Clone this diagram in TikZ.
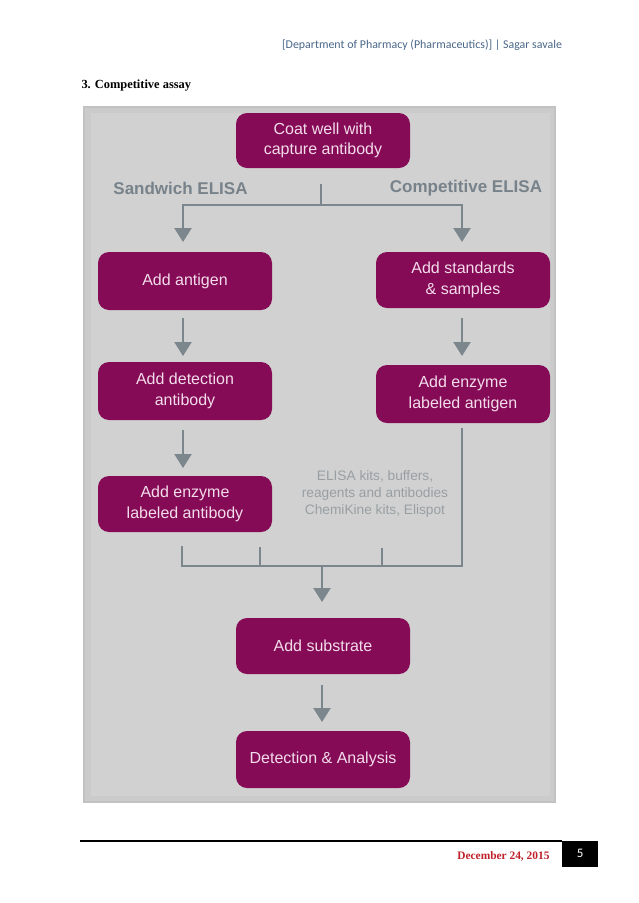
\documentclass[tikz,border=0pt]{standalone}
\usepackage{fontspec}
\setmainfont{Liberation Serif}
\newfontfamily\arialf{Liberation Sans}
\newfontfamily\calibrif{Carlito}
\usetikzlibrary{arrows.meta}
\definecolor{boxc}{HTML}{850B57}
\definecolor{boxtxt}{HTML}{F3DCEA}
\definecolor{linec}{HTML}{7B878D}
\definecolor{lblc}{HTML}{77828A}
\definecolor{kitc}{HTML}{989FA3}
\definecolor{panelout}{HTML}{C2C2C2}
\definecolor{panelc}{HTML}{CBCBCB}
\definecolor{panelin}{HTML}{D1D1D1}
\definecolor{hdrc}{HTML}{4A6688}
\definecolor{datec}{HTML}{C0202A}
\begin{document}
\begin{tikzpicture}[x=1pt,y=-1pt,
  stepbox/.style={fill=boxc, rounded corners=11pt, text=boxtxt, font=\arialf\fontsize{16}{20.5}\selectfont, align=center, inner sep=0pt},
  conn/.style={draw=linec, line width=2.4pt},
  arr/.style={conn, -{Triangle[width=17pt,length=14pt]}},
  lbl/.style={text=lblc, font=\arialf\bfseries\fontsize{17}{19}\selectfont}]
\useasboundingbox (0,0) rectangle (638,903);
\fill[white] (0,0) rectangle (638,903);
% header
\node[text=hdrc, font=\calibrif\fontsize{11.9}{14}\selectfont] (hdr) at (422,45) {[Department of Pharmacy (Pharmaceutics)] | Sagar savale};
\node[anchor=west, font=\bfseries\fontsize{12.4}{14}\selectfont] (title) at (78,86) {3. Competitive assay};
% panel
\fill[panelout] (83,106) rectangle (556,803);
\fill[panelc] (85,108) rectangle (554,801);
\fill[panelin] (91,113) rectangle (550,796);
% boxes
\node[stepbox, minimum width=174pt, minimum height=55pt] (coat) at (323,140.5) {Coat well with\\capture antibody};
\node[lbl] (sand) at (180.5,188) {Sandwich ELISA};
\node[lbl] (comp) at (466,188) {Competitive ELISA};
\node[stepbox, minimum width=174pt, minimum height=58pt] (antigen) at (185,281) {Add antigen};
\node[stepbox, minimum width=174pt, minimum height=56pt] (std) at (463,280) {Add standards\\\& samples};
\node[stepbox, minimum width=174pt, minimum height=58pt] (det) at (185,391) {Add detection\\antibody};
\node[stepbox, minimum width=174pt, minimum height=58pt] (enzag) at (463,394) {Add enzyme\\labeled antigen};
\node[stepbox, minimum width=174pt, minimum height=56pt] (enzab) at (185,504) {Add enzyme\\labeled antibody};
\node[text=kitc, align=center, font=\arialf\fontsize{13.7}{17}\selectfont] (kits) at (375,494) {ELISA kits, buffers,\\reagents and antibodies\\ChemiKine kits, Elispot};
\node[stepbox, minimum width=174pt, minimum height=56pt] (sub) at (323,646) {Add substrate};
\node[stepbox, minimum width=174pt, minimum height=57pt] (detan) at (323,759.5) {Detection \& Analysis};
% coordinates
\coordinate (c1) at (321,184);
\coordinate (c2) at (321,205);
\coordinate (cl) at (183,205);
\coordinate (cr) at (462,205);
\coordinate (bl) at (182,566);
\coordinate (br) at (462,566);
\coordinate (bm) at (322,566);
\coordinate (t1) at (182,546);
\coordinate (t2) at (260,547);
\coordinate (t3) at (382,548);
\coordinate (t2b) at (260,566);
\coordinate (t3b) at (382,566);
% connectors
\draw[conn] (c1) -- (c2);
\draw[conn] ([xshift=-1.2pt]cl) -- ([xshift=1.2pt]cr);
\draw[arr] (cl) -- (183,242);
\draw[arr] (cr) -- (462,242);
\draw[arr] (183,318) -- (183,356);
\draw[arr] (462,318) -- (462,356);
\draw[arr] (183,430) -- (183,468);
\draw[conn] (462,428) -- (br);
\draw[conn] (t1) -- (bl);
\draw[conn] (t2) -- (t2b);
\draw[conn] (t3) -- (t3b);
\draw[conn] ([xshift=-1.2pt]bl) -- ([xshift=1.2pt]br);
\draw[arr] (bm) -- (322,602);
\draw[arr] (322,685) -- (322,722);
% footer
\draw[line width=1.3pt] (80,841) coordinate (fl) -- (562,841) coordinate (fr);
\node[fill=black, minimum width=36pt, minimum height=26pt, inner sep=0pt, anchor=north west, text=white, font=\calibrif\fontsize{13}{15}\selectfont] (pg) at (562,840.5) {5};
\node[anchor=east, text=datec, font=\bfseries\fontsize{11.4}{13}\selectfont] (date) at (553,856) {December 24, 2015};
\end{tikzpicture}
\end{document}
